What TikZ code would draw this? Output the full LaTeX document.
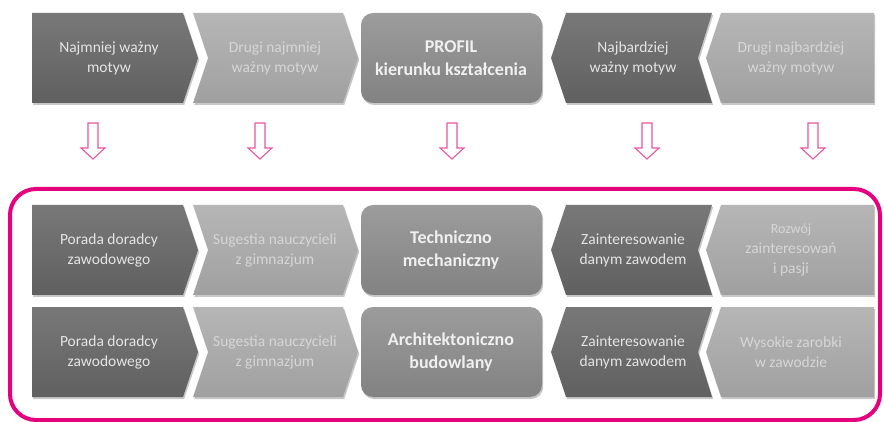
\documentclass[tikz,border=0pt]{standalone}
\usepackage{fontspec}
\setmainfont{Carlito}
\usetikzlibrary{shadows}
\definecolor{darkT}{HTML}{787878}
\definecolor{darkB}{HTML}{606060}
\definecolor{lightT}{HTML}{B6B6B6}
\definecolor{lightB}{HTML}{A0A0A0}
\definecolor{midT}{HTML}{9C9C9C}
\definecolor{midB}{HTML}{828282}
\definecolor{pinkc}{HTML}{E5007D}
\definecolor{arrc}{HTML}{E8559D}
\definecolor{txtdark}{HTML}{E4E4E4}
\definecolor{txtlight}{HTML}{D6D6D6}
\tikzset{
  shd/.style={drop shadow={shadow xshift=1.2pt,shadow yshift=-2pt,fill=black,opacity=0.22}},
  darkshape/.style={shd,top color=darkT,bottom color=darkB},
  lightshape/.style={shd,top color=lightT,bottom color=lightB},
  midshape/.style={shd,top color=midT,bottom color=midB,rounded corners=12pt},
  lbl/.style={align=center,text=txtdark,font=\fontsize{15.5}{20}\selectfont},
  lbllight/.style={lbl,text=txtlight},
  lblmid/.style={align=center,text=white!94!black,font=\bfseries\fontsize{18}{23}\selectfont},
  hollow/.style={draw=arrc,line width=1.1pt,fill=white,line join=miter},
  frame/.style={draw=pinkc,line width=4pt,rounded corners=26pt}
}
\newcommand\motrow[7]{%
  \pgfmathsetmacro\rT{#1}\pgfmathsetmacro\rM{#1+45}\pgfmathsetmacro\rB{#1+90}%
  \path[darkshape] (32,\rT) -- (183,\rT) -- (198,\rM) -- (183,\rB) -- (32,\rB) -- cycle;
  \path[lightshape] (193,\rT) -- (343,\rT) -- (358,\rM) -- (343,\rB) -- (193,\rB) -- (208,\rM) -- cycle;
  \path[midshape] (361,\rT) rectangle (542,\rB);
  \path[darkshape] (566,\rT) -- (712,\rT) -- (698,\rM) -- (712,\rB) -- (566,\rB) -- (551,\rM) -- cycle;
  \path[lightshape] (721,\rT) -- (874,\rT) -- (874,\rB) -- (721,\rB) -- (706,\rM) -- cycle;
  \node[lbl] (#2a) at (109,\rM) {#3};
  \node[lbllight] (#2b) at (275,\rM) {#4};
  \node[lblmid] (#2c) at (451,\rM) {#5};
  \node[lbl] (#2d) at (633,\rM) {#6};
  \node[lbllight] (#2e) at (791,\rM) {#7};
}
\newcommand\hollowarrow[1]{%
  \path[hollow] ({#1-5},123) -- ({#1+5},123) -- ({#1+5},148) -- ({#1+12},148)
    -- (#1,159) -- ({#1-12},148) -- ({#1-5},148) -- cycle;
}
\begin{document}
\begin{tikzpicture}[x=1pt,y=-1pt]
\useasboundingbox (0,0) rectangle (884,422);
\fill[white] (0,0) rectangle (884,422);
\motrow{13}{top}{Najmniej ważny\\motyw}{Drugi najmniej\\ważny motyw}{PROFIL\\kierunku kształcenia}{Najbardziej\\ważny motyw}{Drugi najbardziej\\ważny motyw}
\foreach \ax in {93,260,452,647,813} {\hollowarrow{\ax}}
\draw[frame] (10,189) rectangle (880,420);
\motrow{205}{mid}{Porada doradcy\\zawodowego}{Sugestia nauczycieli\\z gimnazjum}{Techniczno\\mechaniczny}{Zainteresowanie\\danym zawodem}{\fontsize{14}{17.5}\selectfont Rozwój\\zainteresowań\\i pasji}
\motrow{307}{bot}{Porada doradcy\\zawodowego}{Sugestia nauczycieli\\z gimnazjum}{Architektoniczno\\budowlany}{Zainteresowanie\\danym zawodem}{Wysokie zarobki\\w zawodzie}
\end{tikzpicture}
\end{document}
